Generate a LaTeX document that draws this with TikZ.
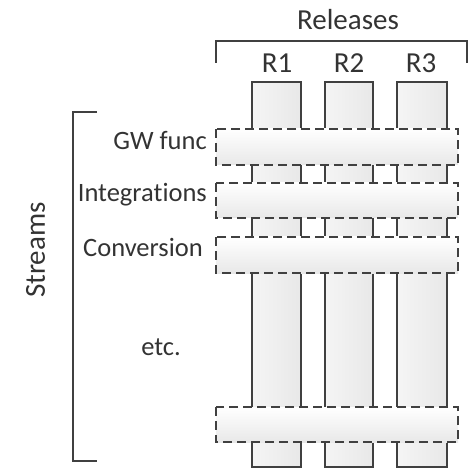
\documentclass[tikz,border=0pt]{standalone}
\usepackage{fontspec}
\setmainfont[RawFeature=-liga]{Carlito}
\begin{document}
\begin{tikzpicture}[x=1pt,y=-1pt,
  ln/.style={draw=black!75, line width=1.3pt},
  col/.style={ln, left color=black!4, right color=black!9},
  band/.style={draw=black!75, line width=1.3pt, dash pattern=on 9pt off 5pt, top color=white, bottom color=black!9},
  lbl/.style={text=black!80, font=\fontsize{26.5}{30}\selectfont, inner sep=0pt},
  big/.style={lbl, font=\fontsize{29}{32}\selectfont},
  brk/.style={draw=black!75, line width=1.3pt}]
\useasboundingbox (0,0) rectangle (469,468);
% columns
\path[col] (252,82) rectangle (301,467);
\path[col] (325,82) rectangle (373,467);
\path[col] (397,82) rectangle (447,467);
% bands
\path[band] (216,129) rectangle (458,165);
\path[band] (216,183) rectangle (458,218);
\path[band] (216,237) rectangle (458,273);
\path[band] (216,407) rectangle (458,442);
% brackets
\coordinate (rb1) at (216,63);
\coordinate (rb2) at (216,41);
\coordinate (rb3) at (467,41);
\coordinate (rb4) at (467,63);
\draw[brk] (rb1) -- (rb2) -- (rb3) -- (rb4);
\coordinate (sb1) at (97,112);
\coordinate (sb2) at (73,112);
\coordinate (sb3) at (73,461);
\coordinate (sb4) at (97,461);
\draw[brk] (sb1) -- (sb2) -- (sb3) -- (sb4);
% labels
\node[big, anchor=base] (rel) at (348,30) {Releases};
\node[big, anchor=base] (r1) at (277,73) {R1};
\node[big, anchor=base] (r2) at (349,73) {R2};
\node[big, anchor=base] (r3) at (421,73) {R3};
\node[lbl, anchor=base east] (gw) at (207,150) {GW func};
\node[lbl, anchor=base east] (int) at (207,202) {Integrations};
\node[lbl, anchor=base east] (conv) at (203,257) {Conversion};
\node[lbl, anchor=base] (etc) at (161,355) {etc.};
\node[big, anchor=base, rotate=90] (str) at (45,250) {Streams};
\end{tikzpicture}
\end{document}
